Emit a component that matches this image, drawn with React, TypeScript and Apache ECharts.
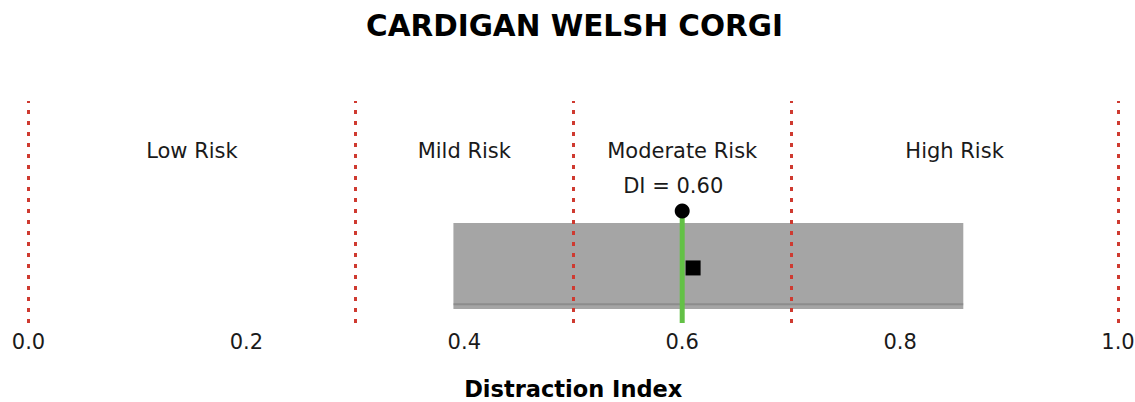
import React, { useEffect, useRef } from "react";
import * as echarts from "echarts";

const chartTitle = "CARDIGAN WELSH CORGI";
const axisTitle = "Distraction Index";
const riskBoundaries = [0, 0.3, 0.5, 0.7, 1.0];
const riskLabels = ["Low Risk", "Mild Risk", "Moderate Risk", "High Risk"];
const diValue = 0.6;
const diText = "DI = 0.60";
const ciRange = [0.39, 0.858];
const meanValue = 0.61;

// vertical layout (in y-axis units 0..1)
const LABEL_Y = 0.775;
const DI_LABEL_Y = 0.617;
const DOT_Y = 0.505;
const BOX_TOP = 0.45;
const BOX_BOTTOM = 0.063;
const BOX_LINE_Y = 0.085;
const SQUARE_Y = 0.248;

const FONT = "'DejaVu Sans', Verdana, sans-serif";

export default function App() {
  const ref = useRef<HTMLDivElement>(null);
  useEffect(() => {
    if (!ref.current) return;
    const chart = echarts.init(ref.current, null, { renderer: "svg" });
    const mids = riskLabels.map((n, i) => ({
      value: [(riskBoundaries[i] + riskBoundaries[i + 1]) / 2, LABEL_Y],
      name: n,
    }));
    chart.setOption({
      animation: false,
      backgroundColor: "#ffffff",
      title: {
        text: chartTitle,
        left: 361,
        top: 6,
        padding: [5, 5, 5, 5],
        textStyle: { fontFamily: FONT, fontSize: 29.5, fontWeight: "bold", color: "#000" },
      },
      grid: { left: 28.5, right: 17, top: 101, bottom: 79, outerBoundsMode: "none", containLabel: false },
      xAxis: {
        type: "value",
        min: 0,
        max: 1,
        interval: 0.2,
        name: axisTitle,
        nameLocation: "middle",
        nameGap: 57,
        nameTextStyle: { fontFamily: FONT, fontSize: 22.5, lineHeight: 18, fontWeight: "bold", color: "#000" },
        axisLine: { show: false },
        axisTick: { show: false },
        splitLine: { show: false },
        axisLabel: {
          fontFamily: FONT,
          fontSize: 21,
          color: "#1a1a1a",
          margin: 8,
          formatter: (v: number) => v.toFixed(1),
        },
      },
      yAxis: { type: "value", min: 0, max: 1, show: false },
      series: [
        {
          type: "scatter",
          z: 1,
          symbolSize: 0,
          data: [],
          silent: true,
          markLine: {
            silent: true,
            symbol: "none",
            label: { show: false },
            lineStyle: { color: "#cf3a30", width: 3, type: [4, 7] },
            data: riskBoundaries.map((b) => ({ xAxis: b })),
          },
        },
        {
          type: "scatter",
          z: 2,
          symbolSize: 0,
          itemStyle: { opacity: 1 },
          data: mids,
          label: {
            show: true,
            position: "inside",
            formatter: "{b}",
            fontFamily: FONT,
            fontSize: 21,
            color: "#1a1a1a",
          },
        },
        {
          type: "custom",
          z: 3,
          data: [[ciRange[0], ciRange[1]]],
          renderItem: (params: any, api: any) => {
            const p1 = api.coord([api.value(0), BOX_TOP]);
            const p2 = api.coord([api.value(1), BOX_BOTTOM]);
            const l1 = api.coord([api.value(0), BOX_LINE_Y]);
            const l2 = api.coord([api.value(1), BOX_LINE_Y]);
            return {
              type: "group",
              children: [
                {
                  type: "rect",
                  shape: { x: p1[0], y: p1[1], width: p2[0] - p1[0], height: p2[1] - p1[1] },
                  style: { fill: "rgba(140,140,140,0.78)" },
                },
                {
                  type: "line",
                  shape: { x1: l1[0], y1: l1[1], x2: l2[0], y2: l2[1] },
                  style: { stroke: "rgba(110,110,110,0.45)", lineWidth: 2 },
                },
              ],
            };
          },
        },
        {
          type: "line",
          z: 4,
          symbol: "none",
          lineStyle: { color: "#63c146", width: 5 },
          data: [
            [diValue, 0],
            [diValue, DOT_Y],
          ],
        },
        {
          type: "scatter",
          z: 5,
          symbol: "circle",
          symbolSize: 15,
          itemStyle: { color: "#000", opacity: 1 },
          data: [[diValue, DOT_Y]],
        },
        {
          type: "scatter",
          z: 5,
          symbol: "rect",
          symbolSize: 15,
          itemStyle: { color: "#000", opacity: 1 },
          data: [[meanValue, SQUARE_Y]],
        },
        {
          type: "scatter",
          z: 5,
          symbolSize: 0,
          itemStyle: { opacity: 1 },
          data: [{ value: [diValue, DI_LABEL_Y], name: diText }],
          label: {
            show: true,
            position: "inside",
            offset: [-9, 0],
            formatter: "{b}",
            fontFamily: FONT,
            fontSize: 21,
            color: "#1a1a1a",
          },
        },
      ],
    });
    return () => chart.dispose();
  }, []);
  return (
    <div
      ref={ref}
      style={{ position: "fixed", left: 0, top: 0, width: 1135, height: 402, background: "#fff" }}
    />
  );
}
